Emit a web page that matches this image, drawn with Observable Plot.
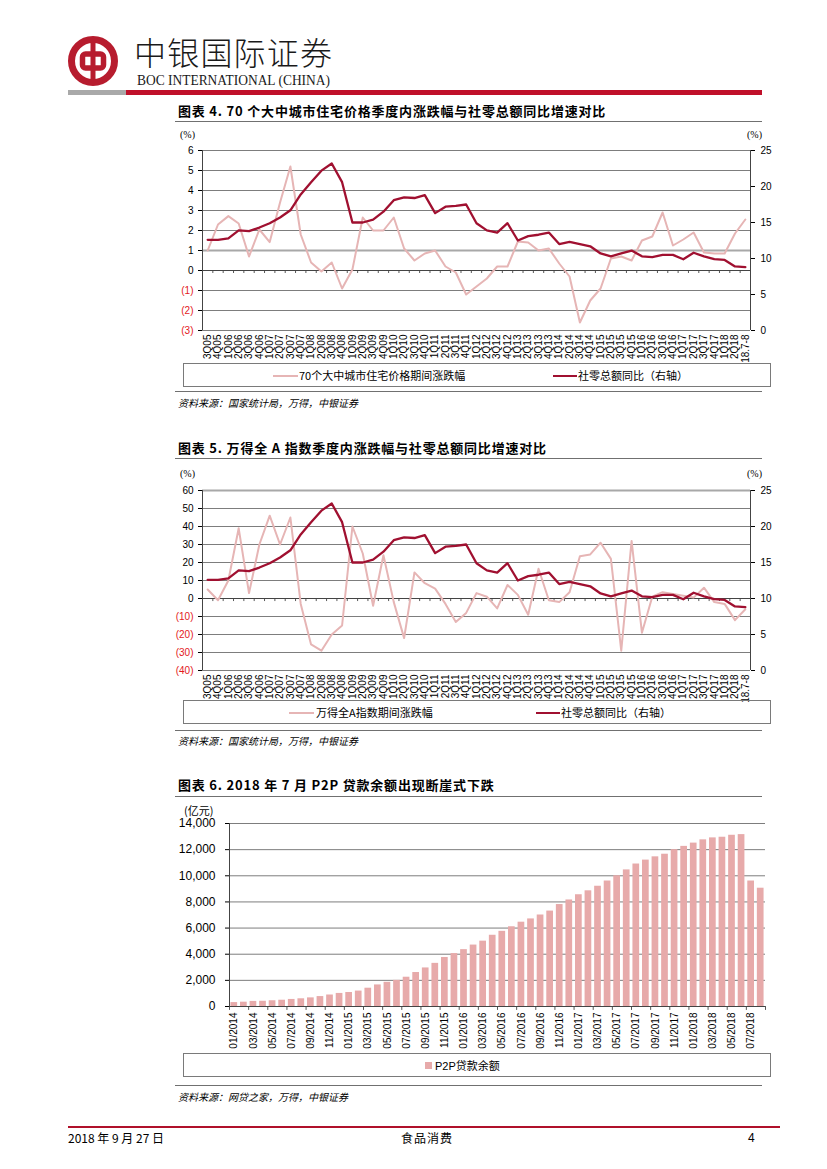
<!DOCTYPE html>
<html lang="zh-CN">
<head>
<meta charset="utf-8">
<script src="https://cdn.jsdelivr.net/npm/d3@7"></script>
<script src="https://cdn.jsdelivr.net/npm/@observablehq/plot@0.6"></script>
<style>
  html,body{margin:0;padding:0;background:#fff;}
  body{width:827px;height:1169px;position:relative;overflow:hidden;font-family:"Noto Sans CJK SC","Liberation Sans",sans-serif;color:#000;}
  .a{position:absolute;white-space:nowrap;}
  .title{left:178px;font-size:13px;line-height:14px;font-weight:700;letter-spacing:0.8px;}
  .hr{position:absolute;left:175px;width:587px;height:0;border-top:1.6px solid #707070;}
  .unit{font-size:10px;line-height:11px;font-family:"Liberation Serif","Noto Sans CJK SC",serif;}
  .legend{position:absolute;left:183px;width:588px;height:24px;border:1px solid #7a7a7a;box-sizing:border-box;}
  .lg{position:absolute;top:4px;font-size:11px;line-height:14px;letter-spacing:0px;white-space:nowrap;}
  .sw{position:absolute;top:11px;height:0;}
  .src{left:178px;font-size:10px;line-height:12px;font-style:italic;}
  .chart{position:absolute;}
</style>
</head>
<body>

<!-- header -->
<svg class="a" style="left:60px;top:30px" width="80" height="70">
  <circle cx="33" cy="31" r="21.5" fill="none" stroke="#b71c2e" stroke-width="7"/>
  <rect x="22.5" y="24" width="21" height="14" rx="3" fill="none" stroke="#b71c2e" stroke-width="5.5"/>
  <rect x="30.5" y="12" width="5" height="38" fill="#b71c2e"/>
</svg>
<div class="a" style="left:134px;top:33px;font-size:32px;line-height:36px;font-weight:300;letter-spacing:1.2px;color:#1a1a1a;">中银国际证券</div>
<svg class="a" style="left:136px;top:71px" width="205" height="20">
  <text x="1" y="14" font-family="Liberation Serif, serif" font-size="14" textLength="193" lengthAdjust="spacingAndGlyphs" fill="#1a1a1a">BOC INTERNATIONAL (CHINA)</text>
</svg>
<div class="a" style="left:68px;top:90px;width:58px;height:5px;background:#a9a9a9;"></div>
<div class="a" style="left:126px;top:90px;width:636px;height:5px;background:#c0102a;"></div>

<!-- chart 1 -->
<div class="a title" style="top:104px;">图表 4. 70 个大中城市住宅价格季度内涨跌幅与社零总额同比增速对比</div>
<div class="hr" style="top:121px;"></div>
<div class="a unit" style="left:180px;top:129px;">(%)</div>
<div class="a unit" style="left:747px;top:129px;">(%)</div>
<div id="c1" class="chart" style="left:160px;top:128px;"></div>
<div class="legend" style="top:363px;">
  <div class="sw" style="left:89px;width:25px;border-top:2px solid #e6b5b5;"></div>
  <div class="lg" style="left:115px;">70个大中城市住宅价格期间涨跌幅</div>
  <div class="sw" style="left:369px;width:24px;border-top:2.5px solid #a01030;"></div>
  <div class="lg" style="left:394px;">社零总额同比（右轴）</div>
</div>
<div class="hr" style="top:391px;"></div>
<div class="a src" style="top:397px;">资料来源：国家统计局，万得，中银证券</div>

<!-- chart 2 -->
<div class="a title" style="top:441px;">图表 5. 万得全 A 指数季度内涨跌幅与社零总额同比增速对比</div>
<div class="hr" style="top:458px;"></div>
<div class="a unit" style="left:180px;top:468px;">(%)</div>
<div class="a unit" style="left:747px;top:468px;">(%)</div>
<div id="c2" class="chart" style="left:160px;top:468px;"></div>
<div class="legend" style="top:700px;">
  <div class="sw" style="left:105px;width:25px;border-top:2px solid #e6b5b5;"></div>
  <div class="lg" style="left:132px;">万得全A指数期间涨跌幅</div>
  <div class="sw" style="left:352px;width:24px;border-top:2.5px solid #a01030;"></div>
  <div class="lg" style="left:377px;">社零总额同比（右轴）</div>
</div>
<div class="hr" style="top:730px;"></div>
<div class="a src" style="top:735px;">资料来源：国家统计局，万得，中银证券</div>

<!-- chart 3 -->
<div class="a title" style="top:778px;">图表 6. 2018 年 7 月 P2P 贷款余额出现断崖式下跌</div>
<div class="hr" style="top:796px;"></div>
<div class="a" style="left:184px;top:804px;font-size:11px;line-height:13px;">(亿元)</div>
<div id="c3" class="chart" style="left:160px;top:800px;"></div>
<div class="legend" style="top:1053px;">
  <div class="a" style="left:241px;top:8px;width:7px;height:7px;background:#e7aaaa;"></div>
  <div class="lg" style="left:251px;font-family:'Liberation Sans','Noto Sans CJK SC',sans-serif;">P2P<span style="font-family:'Noto Sans CJK SC'">贷款余额</span></div>
</div>
<div class="hr" style="top:1085px;"></div>
<div class="a src" style="top:1091px;">资料来源：网贷之家，万得，中银证券</div>

<!-- footer -->
<div class="a" style="left:68px;top:1126px;width:712px;height:2px;background:#b0102a;"></div>
<div class="a" style="left:68px;top:1131px;font-size:12px;line-height:14px;">2018 年 9 月 27 日</div>
<div class="a" style="left:401px;top:1131px;font-size:12px;line-height:14px;letter-spacing:1px;">食品消费</div>
<div class="a" style="left:748px;top:1131px;font-size:12px;line-height:14px;font-family:'Liberation Sans',sans-serif;">4</div>

<script>
// ---------------- data ----------------
const quarters = ["3Q05","4Q05","1Q06","2Q06","3Q06","4Q06","1Q07","2Q07","3Q07","4Q07",
  "1Q08","2Q08","3Q08","4Q08","1Q09","2Q09","3Q09","4Q09","1Q10","2Q10","3Q10","4Q10",
  "1Q11","2Q11","3Q11","4Q11","1Q12","2Q12","3Q12","4Q12","1Q13","2Q13","3Q13","4Q13",
  "1Q14","2Q14","3Q14","4Q14","1Q15","2Q15","3Q15","4Q15","1Q16","2Q16","3Q16","4Q16",
  "1Q17","2Q17","3Q17","4Q17","1Q18","2Q18","18.7-8"];

// 社零总额同比（右轴, %）
const retailSalesYoY = [12.6,12.6,12.8,13.9,13.8,14.3,14.9,15.7,16.7,18.9,
  20.6,22.2,23.2,20.6,15.0,15.0,15.4,16.5,18.1,18.5,18.4,18.8,
  16.3,17.2,17.3,17.5,14.9,13.9,13.6,14.9,12.5,13.1,13.3,13.6,
  12.0,12.3,12.0,11.7,10.7,10.3,10.7,11.1,10.3,10.2,10.5,10.5,
  9.9,10.8,10.3,9.9,9.8,8.9,8.8];

// 70个大中城市住宅价格期间涨跌幅 (%)
const housePriceChange = [1.0,2.3,2.72,2.35,0.7,2.05,1.42,3.4,5.2,1.8,
  0.4,-0.05,0.4,-0.9,0.05,2.65,2.0,2.0,2.65,1.1,0.5,0.85,
  1.0,0.2,-0.1,-1.2,-0.8,-0.4,0.2,0.2,1.45,1.4,1.0,1.1,
  0.35,-0.3,-2.6,-1.5,-0.9,0.6,0.7,0.5,1.5,1.7,2.9,1.25,
  1.55,1.9,0.9,0.85,0.85,1.85,2.55];

// 万得全A指数期间涨跌幅 (%)
const windAChange = [5,-1,10,39,3,30,46,30,45,-3,
  -25.5,-29,-20,-15,40,25,-4,24,-2,-22,14.5,8.5,
  5.5,-3,-13,-8,3,1,-5.5,7.5,2,-9,16.5,-1,
  -2,3.5,23.5,24.5,31,22,-29,32,-19,1,3.5,2.5,
  1.5,0.5,6,-2,-3,-12,-6];

const months = [];
for (const y of [2014,2015,2016,2017,2018]) for (let m = 1; m <= 12; m++) {
  if (y === 2018 && m > 8) break;
  months.push(String(m).padStart(2,"0") + "/" + y);
}
// P2P贷款余额 (亿元)
const p2pBalance = [300,330,390,400,440,480,540,590,660,760,880,1000,
  1070,1180,1400,1650,1850,2000,2240,2600,2950,3300,3750,4050,
  4350,4700,5000,5450,5750,6100,6450,6700,7000,7300,7800,8150,
  8550,8850,9200,9600,10000,10450,10900,11200,11450,11650,12000,12250,
  12500,12750,12900,12950,13100,13150,9600,9050];

const leftTicks1 = [-3,-2,-1,0,1,2,3,4,5,6];
const leftTicks2 = [-40,-30,-20,-10,0,10,20,30,40,50,60];
const rightTicks = [0,5,10,15,20,25];
const p2pTicks = [0,2000,4000,6000,8000,10000,12000,14000];

// ---------------- styles ----------------
const DARK = "#a01030", PINK = "#e6b5b5", BAR = "#e7aaaa", NEG = "#e3191c", GRID = "#6e6e6e";
const baseStyle = {fontFamily: "'Liberation Sans', Arial, sans-serif", fontSize: "10px", background: "transparent", overflow: "visible", color: "#000"};

function dualChart(leftSeries, leftDomain, leftTicks, zeroTick, heavyAt) {
  const [lo, hi] = leftDomain;
  const toLeft = r => lo + r / 25 * (hi - lo);
  const fromLeft = v => (v - lo) / (hi - lo) * 25;
  const n = quarters.length;
  const idx = d3.range(n);
  const bounds = d3.range(n + 1).map(i => i - 0.5);
  return Plot.plot({
    width: 630, height: 240,
    marginLeft: 42, marginRight: 40, marginTop: 22, marginBottom: 38,
    style: baseStyle,
    x: {domain: [-0.5, n - 0.5]},
    y: {domain: leftDomain},
    marks: [
      Plot.ruleY(leftTicks, {stroke: GRID, strokeWidth: 0.9}),
      Plot.ruleY([heavyAt], {stroke: "#a8a8a8", strokeWidth: 2.2}),
      Plot.ruleY([0], {stroke: "#444", strokeWidth: 1}),
      Plot.ruleX(bounds, {y1: 0, y2: -zeroTick, stroke: "#444", strokeWidth: 0.9}),
      Plot.ruleX([-0.5, n - 0.5], {stroke: "#444", strokeWidth: 1}),
      Plot.axisY({ticks: leftTicks.filter(d => d >= 0), tickSize: 4, tickPadding: 5, tickFormat: d => String(d), fontSize: 10}),
      Plot.axisY({ticks: leftTicks.filter(d => d < 0), tickSize: 4, tickPadding: 5, tickFormat: d => `(${-d})`, fill: NEG, fontSize: 10}),
      Plot.axisY({anchor: "right", ticks: rightTicks.map(toLeft), tickSize: 4, tickPadding: 6,
        tickFormat: d => String(Math.round(fromLeft(d))), fontSize: 10}),
      Plot.axisX({ticks: idx, tickFormat: i => quarters[i], tickRotate: -90, tickSize: 0, tickPadding: 4, fontSize: 10}),
      Plot.line(leftSeries, {x: (d, i) => i, y: d => d, stroke: PINK, strokeWidth: 2}),
      Plot.line(retailSalesYoY, {x: (d, i) => i, y: d => toLeft(d), stroke: DARK, strokeWidth: 2.3})
    ]
  });
}

document.getElementById("c1").append(dualChart(housePriceChange, [-3, 6], leftTicks1, 0.15, 1));
document.getElementById("c2").append(dualChart(windAChange, [-40, 60], leftTicks2, 1.7, 60));

const nM = months.length;
const p2pChart = Plot.plot({
  width: 630, height: 252,
  marginLeft: 69, marginRight: 25, marginTop: 23, marginBottom: 46,
  style: baseStyle,
  x: {domain: [-0.5, nM - 0.5]},
  y: {domain: [0, 14000]},
  marks: [
    Plot.ruleY(p2pTicks.filter(d => d > 0), {stroke: GRID, strokeWidth: 0.9}),
    Plot.rectY(p2pBalance, {x1: (d, i) => i - 0.35, x2: (d, i) => i + 0.35, y: d => d, fill: BAR}),
    Plot.ruleY([0], {stroke: "#444", strokeWidth: 1}),
    Plot.ruleX([-0.5], {stroke: "#444", strokeWidth: 1}),
    Plot.ruleX(d3.range(0, nM + 1, 2).map(i => i - 0.5), {y1: 0, y2: -300, stroke: "#444", strokeWidth: 0.9}),
    Plot.axisY({ticks: p2pTicks, tickFormat: d3.format(","), tickSize: 4, tickPadding: 10, fontSize: 12}),
    Plot.axisX({ticks: d3.range(0, nM, 2), tickFormat: i => months[i], tickRotate: -90, tickSize: 0, tickPadding: 6, fontSize: 10})
  ]
});
document.getElementById("c3").append(p2pChart);
</script>
</body>
</html>
